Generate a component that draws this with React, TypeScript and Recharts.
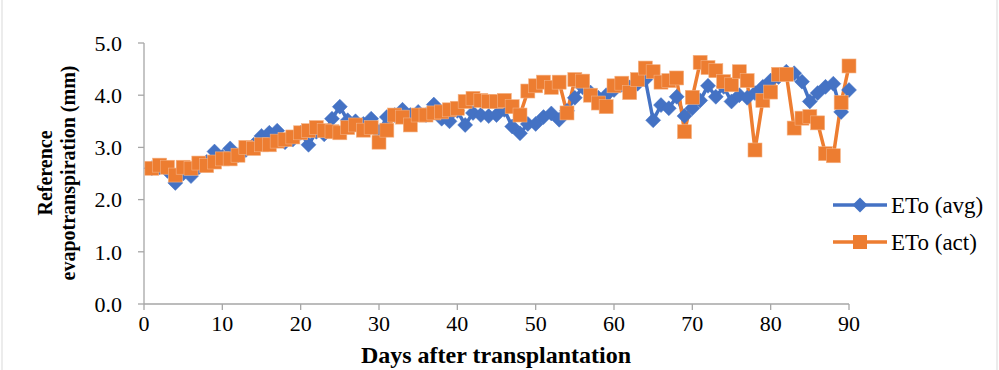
import React from 'react';
import { LineChart, Line, XAxis, YAxis } from 'recharts';

const days = [
  1, 2, 3, 4, 5, 6, 7, 8, 9, 10, 11, 12, 13, 14, 15, 16, 17, 18, 19, 20,
  21, 22, 23, 24, 25, 26, 27, 28, 29, 30, 31, 32, 33, 34, 35, 36, 37, 38, 39, 40,
  41, 42, 43, 44, 45, 46, 47, 48, 49, 50, 51, 52, 53, 54, 55, 56, 57, 58, 59, 60,
  61, 62, 63, 64, 65, 66, 67, 68, 69, 70, 71, 72, 73, 74, 75, 76, 77, 78, 79, 80,
  81, 82, 83, 84, 85, 86, 87, 88, 89, 90,
];

const etoAvg = [
  2.6, 2.62, 2.55, 2.32, 2.5, 2.45, 2.62, 2.72, 2.92, 2.82,
  2.98, 2.85, 2.95, 3.05, 3.22, 3.28, 3.32, 3.1, 3.15, 3.28,
  3.05, 3.3, 3.25, 3.55, 3.78, 3.52, 3.5, 3.45, 3.55, 3.3,
  3.58, 3.62, 3.72, 3.62, 3.68, 3.62, 3.82, 3.55, 3.5, 3.7,
  3.43, 3.66, 3.62, 3.6, 3.62, 3.72, 3.4, 3.27, 3.45, 3.45,
  3.58, 3.65, 3.53, 3.7, 3.95, 4.15, 4.05, 3.95, 4.0, 4.1,
  4.2, 4.15, 4.22, 4.3, 3.52, 3.81, 3.75, 3.97, 3.6, 3.75,
  3.9, 4.18, 3.97, 4.16, 3.88, 4.0, 3.95, 4.04, 4.16, 4.28,
  4.35, 4.45, 4.42, 4.26, 3.88, 4.04, 4.16, 4.22, 3.68, 4.1,
];

const etoAct = [
  2.6, 2.66, 2.62, 2.47, 2.62, 2.6, 2.7, 2.65, 2.72, 2.78,
  2.78, 2.85, 3.0, 2.98, 3.05, 3.05, 3.12, 3.15, 3.2, 3.28,
  3.32, 3.38, 3.32, 3.3, 3.28, 3.38, 3.43, 3.33, 3.38, 3.1,
  3.33, 3.62, 3.58, 3.43, 3.62, 3.62, 3.66, 3.68, 3.72, 3.75,
  3.88, 3.94, 3.9, 3.88, 3.88, 3.9, 3.78, 3.62, 4.08, 4.18,
  4.25, 4.15, 4.25, 3.66, 4.3, 4.27, 4.0, 3.85, 3.78, 4.18,
  4.23, 4.05, 4.3, 4.52, 4.45, 4.25, 4.28, 4.33, 3.3, 3.96,
  4.63, 4.53, 4.47, 4.26, 4.2, 4.45, 4.28, 2.95, 3.9, 4.06,
  4.4, 4.4, 3.37, 3.56, 3.59, 3.47, 2.88, 2.84, 3.86, 4.56,
];

const xTicks = [0, 10, 20, 30, 40, 50, 60, 70, 80, 90];
const yTicks = [0, 1, 2, 3, 4, 5];

const seriesNames = ['ETo (avg)', 'ETo (act)'];
const xTitle = 'Days after transplantation';
const yTitleLines = ['Reference', 'evapotranspiration (mm)'];

const data = days.map((d, i) => ({ day: d, avg: etoAvg[i], act: etoAct[i] }));

const BLUE = '#4472C4';
const ORANGE = '#ED7D31';
const AXIS = '#a6a6a6';
const FONT = '"Liberation Serif", "Times New Roman", serif';

const D = 7.5;
const S = 7;

const diamondPts = (cx: number, cy: number) =>
  `${cx},${cy - D} ${cx + D},${cy} ${cx},${cy + D} ${cx - D},${cy}`;

const DiamondDot = (props: any) => {
  const { cx, cy, index } = props;
  if (cx == null || cy == null) return <g key={`d-${index}`} />;
  return <polygon key={`d-${index}`} points={diamondPts(cx, cy)} fill={BLUE} stroke={BLUE} strokeWidth={0.5} />;
};

const SquareDot = (props: any) => {
  const { cx, cy, index } = props;
  if (cx == null || cy == null) return <g key={`s-${index}`} />;
  return <rect key={`s-${index}`} x={cx - S} y={cy - S} width={2 * S} height={2 * S} fill={ORANGE} stroke="#f4b183" strokeWidth={0.6} />;
};

const fmt = (v: number) => v.toFixed(1);

export default function App() {
  return (
    <div style={{ position: 'absolute', left: 0, top: 0, width: 999, height: 370, background: '#fff' }}>
      <LineChart
        width={999}
        height={370}
        data={data}
        margin={{ top: 43, right: 150, bottom: 0, left: 74 }}
      >
        <XAxis
          dataKey="day"
          type="number"
          domain={[0, 90]}
          ticks={xTicks}
          interval={0}
          height={66}
          stroke={AXIS}
          tickSize={6}
          tickMargin={5}
          tick={{ fill: '#000', fontSize: 22, fontFamily: FONT }}
          axisLine={{ stroke: AXIS, strokeWidth: 1.3 }}
          tickLine={{ stroke: AXIS, strokeWidth: 1.3 }}
        />
        <YAxis
          type="number"
          domain={[0, 5]}
          ticks={yTicks}
          interval={0}
          width={70}
          tickFormatter={fmt}
          tickSize={6}
          tickMargin={16}
          tick={{ fill: '#000', fontSize: 22, fontFamily: FONT }}
          axisLine={{ stroke: AXIS, strokeWidth: 1.3 }}
          tickLine={{ stroke: AXIS, strokeWidth: 1.3 }}
        />
        <Line
          type="linear"
          dataKey="avg"
          name={seriesNames[0]}
          stroke={BLUE}
          strokeWidth={3.5}
          dot={DiamondDot}
          activeDot={false}
          isAnimationActive={false}
        />
        <Line
          type="linear"
          dataKey="act"
          name={seriesNames[1]}
          stroke={ORANGE}
          strokeWidth={3.5}
          dot={SquareDot}
          activeDot={false}
          isAnimationActive={false}
        />
      </LineChart>
      <svg
        width={999}
        height={370}
        style={{ position: 'absolute', left: 0, top: 0, pointerEvents: 'none' }}
      >
        <line x1={2} y1={0} x2={2} y2={370} stroke="#d9d9d9" strokeWidth={1} />
        <line x1={997} y1={0} x2={997} y2={370} stroke="#d9d9d9" strokeWidth={1} />
        <g transform="translate(45,173) rotate(-90)">
          <text x={0} y={0} textAnchor="middle" dominantBaseline="central" fontFamily={FONT} fontWeight="bold" fontSize={20} fill="#000">
            {yTitleLines[0]}
          </text>
        </g>
        <g transform="translate(68,173) rotate(-90)">
          <text x={0} y={0} textAnchor="middle" dominantBaseline="central" fontFamily={FONT} fontWeight="bold" fontSize={20} fill="#000">
            {yTitleLines[1]}
          </text>
        </g>
        <text x={496} y={363} textAnchor="middle" fontFamily={FONT} fontWeight="bold" fontSize={24} fill="#000">
          {xTitle}
        </text>
        <g>
          <line x1={833} y1={205} x2={887} y2={205} stroke={BLUE} strokeWidth={3.5} />
          <polygon points={diamondPts(860, 205)} fill={BLUE} />
          <text x={891} y={205} dominantBaseline="central" fontFamily={FONT} fontSize={23} fill="#000">
            {seriesNames[0]}
          </text>
          <line x1={833} y1={242} x2={887} y2={242} stroke={ORANGE} strokeWidth={3.5} />
          <rect x={860 - S} y={242 - S} width={2 * S} height={2 * S} fill={ORANGE} />
          <text x={891} y={242} dominantBaseline="central" fontFamily={FONT} fontSize={23} fill="#000">
            {seriesNames[1]}
          </text>
        </g>
      </svg>
    </div>
  );
}
